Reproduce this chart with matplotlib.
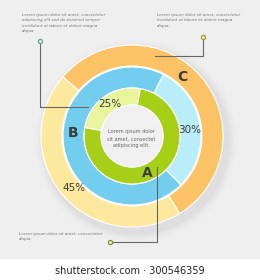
import matplotlib
matplotlib.use("Agg")
import matplotlib.pyplot as plt
from matplotlib.patches import Circle, Rectangle

# ---- data ----
outer_labels = ["C", "45%"]
outer_values = [55, 45]
outer_colors = ["#fcc266", "#fce99d"]

middle_labels = ["30%", "B"]
middle_values = [30, 70]
middle_colors = ["#b8edf9", "#72cdef"]

inner_labels = ["25%", "A"]
inner_values = [25, 75]
inner_colors = ["#e8f59c", "#a8cf18"]

center_text = "Lorem ipsum dolor\nsit amet, consectet\nadipiscing elit."
note_tl = ("Lorem ipsum dolor sit amet, consectetur\nadipiscing elit.sed do eiusmod tempor\n"
           "incididunt ut labore et dolore magna\naliqua.")
note_tr = "Lorem ipsum dolor sit amet, consectetur\nincididunt ut labore et dolore magna\naliqua."
note_bl = "Lorem ipsum dolor sit amet, consectetur\naliqua."
watermark = "shutterstock.com \u00b7 300546359"

W, H = 260, 280
fig = plt.figure(figsize=(2.6, 2.8), dpi=100)
fig.patch.set_facecolor("white")
ax = fig.add_axes([0, 0, 1, 1])

def Y(y):  # pixel row -> data y (y up)
    return H - y

cx, cy = 132, Y(136)

# background
ax.add_patch(Rectangle((0, Y(259)), W, 259, facecolor="#efefef", edgecolor="none", zorder=0))

# soft shadow
for r, a in [(101, 0.03), (98, 0.04), (96, 0.05), (94, 0.07)]:
    ax.add_patch(Circle((cx + 4, cy - 5), r, facecolor="#9a9a9a", alpha=a, edgecolor="none", zorder=1))

wp = dict(edgecolor="white", linewidth=0.8)
ax.pie(outer_values, colors=outer_colors, startangle=139.5, counterclock=False,
       radius=91, center=(cx, cy), wedgeprops=dict(width=21, **wp), frame=True)
ax.pie(middle_values, colors=middle_colors, startangle=63, counterclock=False,
       radius=69, center=(cx, cy), wedgeprops=dict(width=21, **wp), frame=True)
ax.pie(inner_values, colors=inner_colors, startangle=170, counterclock=False,
       radius=48, center=(cx, cy), wedgeprops=dict(width=17, **wp), frame=True)
ax.add_patch(Circle((cx, cy), 31, facecolor="#f0f0f0", edgecolor="#fafafa", linewidth=0.8, zorder=5))

# ring labels
lab = dict(color="#3c3c3c", ha="center", va="center", zorder=10)
ax.text(182, Y(77), outer_labels[0], fontsize=10, fontweight="bold", **lab)
ax.text(74, Y(188), outer_labels[1], fontsize=7.5, **lab)
ax.text(190, Y(130), middle_labels[0], fontsize=7.5, **lab)
ax.text(73, Y(133), middle_labels[1], fontsize=10, fontweight="bold", **lab)
ax.text(110, Y(104), inner_labels[0], fontsize=7.5, **lab)
ax.text(147, Y(173), inner_labels[1], fontsize=10, fontweight="bold", **lab)

ax.text(131, Y(139), center_text, fontsize=3.6, color="#666666", ha="center", va="center",
        linespacing=1.5, zorder=10)

# notes
note = dict(fontsize=3.0, color="#777777", style="italic", ha="left", va="top", linespacing=1.45)
ax.text(22, Y(13), note_tl, **note)
ax.text(157, Y(13), note_tr, **note)
ax.text(19, Y(232), note_bl, **note)

# leader lines
lc = dict(color="#666666", linewidth=0.8, zorder=11)
ax.plot([40, 40, 88], [Y(41), Y(107), Y(107)], **lc)
ax.plot([203, 203, 155], [Y(37), Y(56), Y(56)], **lc)
ax.plot([110, 157, 157], [Y(242), Y(242), Y(167)], **lc)
ax.plot([40], [Y(41)], marker="o", ms=3, mfc="#e8f0f0", mec="#5aa8a0", mew=0.9, zorder=12)
ax.plot([203], [Y(37)], marker="o", ms=3, mfc="#f5f0d0", mec="#a89a30", mew=0.9, zorder=12)
ax.plot([110], [Y(242)], marker="o", ms=3, mfc="#eef5d0", mec="#7a9a20", mew=0.9, zorder=12)

ax.text(130, Y(271), watermark, fontsize=7, color="#222222", ha="center", va="center")

ax.set_xlim(0, W)
ax.set_ylim(0, H)
ax.set_aspect("auto")
ax.axis("off")
fig.savefig("out.png", dpi=100)
